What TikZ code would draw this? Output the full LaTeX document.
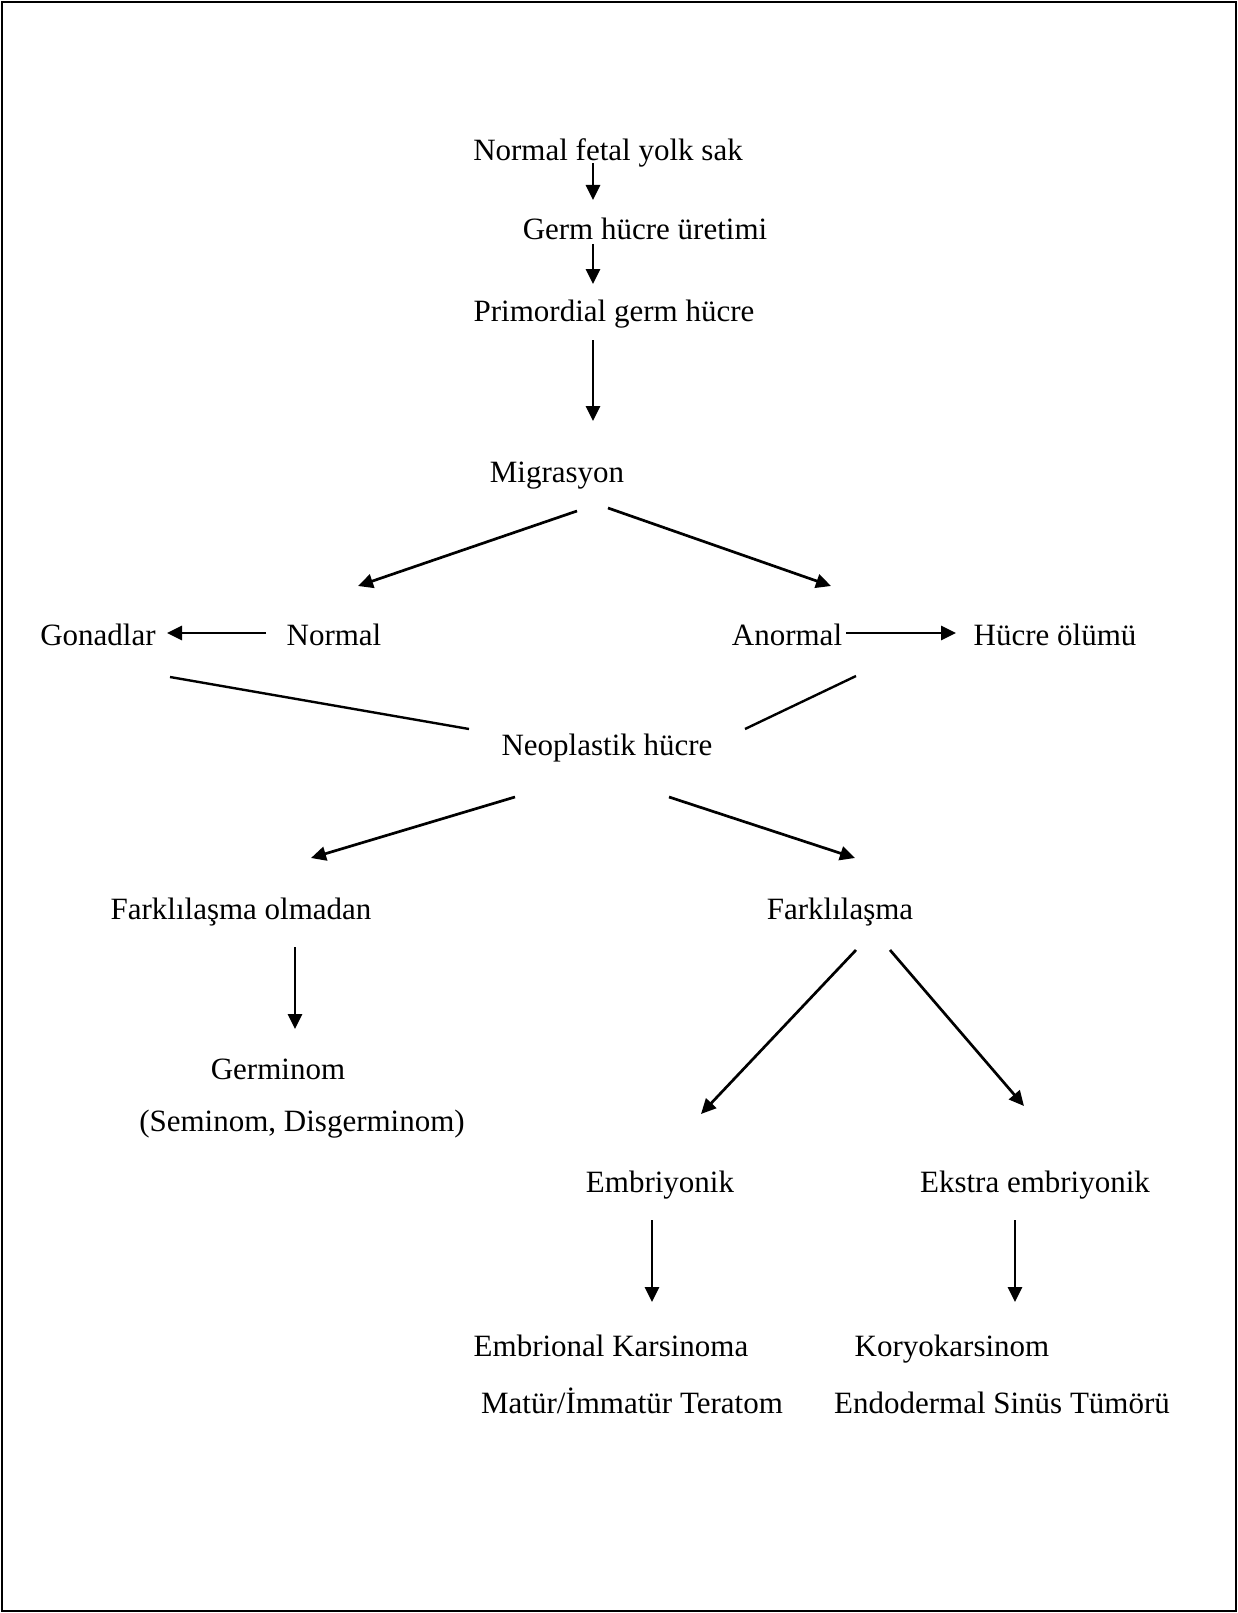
\documentclass[tikz,border=0pt]{standalone}
\usepackage{fontspec}
\setmainfont{Liberation Serif}
\usetikzlibrary{arrows.meta}
\begin{document}
\begin{tikzpicture}[x=1pt,y=-1pt,
  lbl/.style={anchor=base,inner sep=0pt,font=\fontsize{31}{37}\selectfont},
  arr/.style={line width=2.7pt,-{Triangle[length=15pt,width=14pt]}},
  plain/.style={line width=2.4pt}]
\useasboundingbox (0,0) rectangle (1238,1613);
\draw[line width=2.4pt] (2,2) rectangle (1236,1611);
% nodes
\node[lbl] (nfys) at (608,161) {Normal fetal yolk sak};
\node[lbl] (ghu) at (645,240) {Germ hücre üretimi};
\node[lbl] (pgh) at (614,321) {Primordial germ hücre};
\node[lbl] (mig) at (557,482) {Migrasyon};
\node[lbl] (gon) at (98,645) {Gonadlar};
\node[lbl] (nor) at (334,645) {Normal};
\node[lbl] (anor) at (787,645) {Anormal};
\node[lbl] (hol) at (1055,645) {Hücre ölümü};
\node[lbl] (neo) at (607,755) {Neoplastik hücre};
\node[lbl] (fko) at (241,919) {Farklılaşma olmadan};
\node[lbl] (fk) at (840,919) {Farklılaşma};
\node[lbl] (germ) at (278,1079) {Germinom};
\node[lbl] (semi) at (302,1131) {(Seminom, Disgerminom)};
\node[lbl] (emb) at (660,1192) {Embriyonik};
\node[lbl] (ekst) at (1035,1192) {Ekstra embriyonik};
\node[lbl] (ek) at (611,1356) {Embrional Karsinoma};
\node[lbl] (mit) at (632,1413) {Matür/İmmatür Teratom};
\node[lbl] (kor) at (952,1356) {Koryokarsinom};
\node[lbl] (est) at (1002,1413) {Endodermal Sinüs Tümörü};
% connector end points
\coordinate (a1s) at (593,163); \coordinate (a1e) at (593,200);
\coordinate (a2s) at (593,244); \coordinate (a2e) at (593,284);
\coordinate (a3s) at (593,340); \coordinate (a3e) at (593,421);
\coordinate (mls) at (577,511); \coordinate (mle) at (358,586);
\coordinate (mrs) at (608,508); \coordinate (mre) at (831,586);
\coordinate (ngs) at (266,633); \coordinate (nge) at (167,633);
\coordinate (ahs) at (846,633); \coordinate (ahe) at (956,633);
\coordinate (gls) at (170,677); \coordinate (gle) at (469,729);
\coordinate (als) at (856,676); \coordinate (ale) at (745,729);
\coordinate (nls) at (515,797); \coordinate (nle) at (311,858);
\coordinate (nrs) at (669,797); \coordinate (nre) at (855,858);
\coordinate (fgs) at (295,947); \coordinate (fge) at (295,1029);
\coordinate (fls) at (856,950); \coordinate (fle) at (701,1114);
\coordinate (frs) at (890,950); \coordinate (fre) at (1024,1106);
\coordinate (ebs) at (652,1220); \coordinate (ebe) at (652,1302);
\coordinate (exs) at (1015,1220); \coordinate (exe) at (1015,1302);
% connectors
\draw[arr] (a1s) -- (a1e);
\draw[arr] (a2s) -- (a2e);
\draw[arr] (a3s) -- (a3e);
\draw[arr] (mls) -- (mle);
\draw[arr] (mrs) -- (mre);
\draw[arr] (ngs) -- (nge);
\draw[arr] (ahs) -- (ahe);
\draw[plain] (gls) -- (gle);
\draw[plain] (als) -- (ale);
\draw[arr] (nls) -- (nle);
\draw[arr] (nrs) -- (nre);
\draw[arr] (fgs) -- (fge);
\draw[arr] (fls) -- (fle);
\draw[arr] (frs) -- (fre);
\draw[arr] (ebs) -- (ebe);
\draw[arr] (exs) -- (exe);
\end{tikzpicture}
\end{document}
